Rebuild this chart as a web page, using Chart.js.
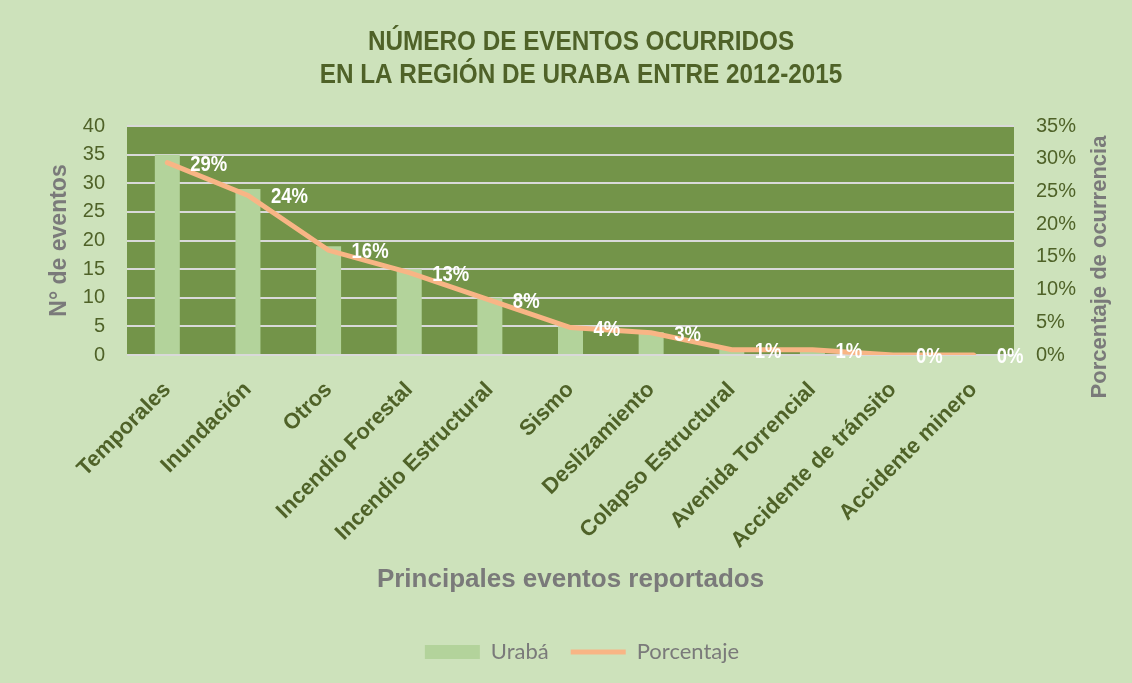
<!DOCTYPE html>
<html>
<head>
<meta charset="utf-8">
<script src="https://cdn.jsdelivr.net/npm/chart.js@4/dist/chart.umd.min.js"></script>
<style>
  html, body { margin: 0; padding: 0; background: #cde2bb; }
  #wrap { width: 1132px; height: 683px; }
</style>
</head>
<body>
<div id="wrap"><canvas id="chart" width="1132" height="683"></canvas></div>
<script>
// ---------- Data ----------
const titleLines = ['NÚMERO DE EVENTOS OCURRIDOS', 'EN LA REGIÓN DE URABA ENTRE 2012-2015'];
const categories = [
  'Temporales', 'Inundación', 'Otros', 'Incendio Forestal', 'Incendio Estructural',
  'Sismo', 'Deslizamiento', 'Colapso Estructural', 'Avenida Torrencial',
  'Accidente de tránsito', 'Accidente minero'
];
const eventCounts = [35, 29, 19, 15, 10, 5, 4, 1, 1, 0, 0];
const percentValues = [29.4, 24.4, 16.0, 12.6, 8.4, 4.2, 3.4, 0.8, 0.8, 0, 0];
const countTicks = [0, 5, 10, 15, 20, 25, 30, 35, 40];
const percentTicks = [0, 5, 10, 15, 20, 25, 30, 35];

// ---------- Look ----------
const darkGreen = '#4f6228';
const greyText  = '#7a7a7a';
const sans      = "'Liberation Sans', Arial, sans-serif";

// narrow text: no Arial Narrow here, so squeeze Liberation Sans
function narrowText(ctx, text, x, y, squeeze) {
  ctx.save();
  ctx.translate(x, y);
  ctx.scale(squeeze, 1);
  ctx.fillText(text, 0, 0);
  ctx.restore();
}

// plot area fill, title, right axis title, value labels
const extras = {
  id: 'extras',
  beforeDraw(chart) {
    const { ctx, chartArea: a } = chart;
    ctx.save();
    ctx.fillStyle = '#739449';
    ctx.fillRect(a.left, a.top, a.right - a.left, a.bottom - a.top);
    ctx.restore();
  },
  afterLayout(chart) {
    // legend sits a little right of centre in the original
    chart.legend.left += 32;
  },
  afterDatasetsDraw(chart) {
    const { ctx } = chart;
    const meta = chart.getDatasetMeta(1);
    ctx.save();
    ctx.font = 'bold 22px ' + sans;
    ctx.fillStyle = '#ffffff';
    ctx.textAlign = 'left';
    ctx.textBaseline = 'middle';
    meta.data.forEach((pt, i) => {
      narrowText(ctx, Math.round(percentValues[i]) + '%', pt.x + 23, pt.y + 2, 0.84);
    });
    ctx.restore();
  },
  afterDraw(chart) {
    const { ctx } = chart;
    ctx.save();
    ctx.font = 'bold 27px ' + sans;
    ctx.fillStyle = darkGreen;
    ctx.textAlign = 'center';
    ctx.textBaseline = 'middle';
    narrowText(ctx, titleLines[0], 581, 43, 0.9);
    narrowText(ctx, titleLines[1], 581, 76, 0.9);

    ctx.translate(1100, 267);
    ctx.rotate(-Math.PI / 2);
    ctx.font = 'bold 22px ' + sans;
    ctx.fillStyle = greyText;
    ctx.fillText('Porcentaje de ocurrencia', 0, 0);
    ctx.restore();
  }
};

new Chart(document.getElementById('chart'), {
  type: 'bar',
  data: {
    labels: categories,
    datasets: [
      {
        type: 'bar',
        label: 'Urabá',
        data: eventCounts,
        backgroundColor: '#b3d39b',
        borderWidth: 0,
        barPercentage: 0.31,
        categoryPercentage: 1,
        yAxisID: 'y',
        order: 2,
        pointStyle: 'rect'
      },
      {
        type: 'line',
        label: 'Porcentaje',
        data: percentValues,
        borderColor: '#f8b585',
        backgroundColor: '#f8b585',
        borderWidth: 5,
        borderCapStyle: 'round',
        pointRadius: 0,
        tension: 0,
        yAxisID: 'y1',
        order: 1,
        pointStyle: 'line'
      }
    ]
  },
  options: {
    responsive: false,
    animation: false,
    layout: { padding: { left: 0, right: 0, top: 126, bottom: 10 } },
    plugins: {
      title: { display: false },
      legend: {
        position: 'bottom',
        labels: {
          usePointStyle: true,
          pointStyleWidth: 55,
          boxHeight: 14,
          padding: 22,
          color: greyText,
          font: { family: "Lato, 'Open Sans', sans-serif", size: 22 },
          sort: (a, b) => a.datasetIndex - b.datasetIndex
        }
      },
      tooltip: { enabled: false }
    },
    scales: {
      x: {
        grid: { display: false },
        border: { display: false },
        ticks: {
          autoSkip: false,
          maxRotation: 45,
          minRotation: 45,
          padding: 14,
          color: darkGreen,
          font: { family: sans, size: 22, weight: 'bold' }
        },
        title: {
          display: true,
          text: 'Principales eventos reportados',
          color: greyText,
          font: { family: sans, size: 26, weight: 'bold', lineHeight: 1.2 },
          padding: { top: 0, bottom: 24 }
        },
        afterFit(scale) { scale.height = 264; }
      },
      y: {
        position: 'left',
        min: 0,
        max: 40,
        afterBuildTicks(scale) { scale.ticks = countTicks.map(v => ({ value: v })); },
        grid: { color: '#d9d9d9', lineWidth: 2, drawTicks: false },
        border: { display: false },
        ticks: {
          autoSkip: false,
          padding: 22,
          color: darkGreen,
          font: { family: sans, size: 20 }
        },
        title: {
          display: true,
          text: 'N° de eventos',
          color: greyText,
          font: { family: sans, size: 23, weight: 'bold', lineHeight: 1.2 },
          padding: { top: 46, bottom: 0 }
        },
        afterFit(scale) { scale.width = 127; }
      },
      y1: {
        position: 'right',
        min: 0,
        max: 35,
        afterBuildTicks(scale) { scale.ticks = percentTicks.map(v => ({ value: v })); },
        grid: { drawOnChartArea: false, drawTicks: false },
        border: { display: false },
        ticks: {
          autoSkip: false,
          padding: 22,
          color: darkGreen,
          font: { family: sans, size: 20 },
          callback: v => v + '%'
        },
        afterFit(scale) { scale.width = 118; }
      }
    }
  },
  plugins: [extras]
});
</script>
</body>
</html>
